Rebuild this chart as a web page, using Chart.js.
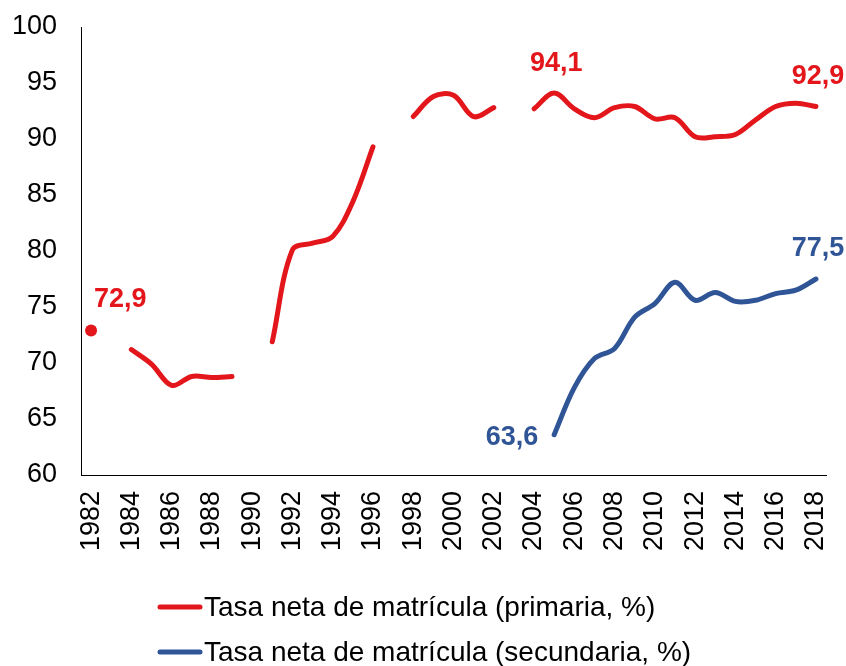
<!DOCTYPE html>
<html>
<head>
<meta charset="utf-8">
<script src="https://cdn.jsdelivr.net/npm/chart.js@4/dist/chart.umd.min.js"></script>
<style>
  html, body { margin: 0; padding: 0; background: #fff; }
  #wrap { width: 846px; height: 666px; position: relative; }
</style>
</head>
<body>
<div id="wrap"><canvas id="c" width="846" height="666"></canvas></div>
<script>
const years = [1982,1983,1984,1985,1986,1987,1988,1989,1990,1991,1992,1993,1994,1995,1996,1997,1998,1999,2000,
  2001,2002,2003,2004,2005,2006,2007,2008,2009,2010,2011,2012,2013,2014,2015,2016,2017,2018];
const primaria = [72.9,null,71.2,69.9,68.0,68.8,68.7,68.8,null,71.9,80.1,80.7,81.3,84.4,89.3,null,92.0,93.8,93.9,
  92.0,92.8,null,92.7,94.1,92.7,91.9,92.8,92.9,91.8,91.9,90.2,90.2,90.4,91.7,92.9,93.2,92.9];
const secundaria = [null,null,null,null,null,null,null,null,null,null,null,null,null,null,null,null,null,null,null,
  null,null,null,null,63.6,67.8,70.4,71.3,74.1,75.3,77.2,75.6,76.3,75.5,75.6,76.2,76.5,77.5];
const seriesNames = ['Tasa neta de matrícula (primaria, %)', 'Tasa neta de matrícula (secundaria, %)'];
const yTicks = [60,65,70,75,80,85,90,95,100];
// labels: [seriesIndex, dataIndex, text]
const valueLabels = [[0,0,'72,9'],[0,23,'94,1'],[0,36,'92,9'],[1,23,'63,6'],[1,36,'77,5']];

const RED = '#E3161B', BLUE = '#2F5597';
const FONT = '"Liberation Sans", Arial, sans-serif';

function isolatedRadius(ctx){
  const d = ctx.dataset.data, i = ctx.dataIndex;
  if (d[i] == null) return 0;
  const prev = i > 0 ? d[i-1] : null, next = i < d.length-1 ? d[i+1] : null;
  return (prev == null && next == null) ? 6 : 0;
}

const labelPlugin = {
  id: 'valueLabels',
  afterDatasetsDraw(chart){
    const c = chart.ctx;
    c.save();
    c.font = 'bold 27px ' + FONT;
    c.textBaseline = 'middle';
    valueLabels.forEach(([s,i,t]) => {
      const p = chart.getDatasetMeta(s).data[i];
      c.fillStyle = s === 0 ? RED : BLUE;
      let x = p.x, y = p.y;
      if (s === 0 && i === 0) { c.textAlign = 'left'; x += 3; y -= 31; }
      else if (s === 1 && i === 23) { c.textAlign = 'right'; x -= 16; y += 3; }
      else { c.textAlign = 'center'; x += 2; y -= 30; }
      c.fillText(t, x, y);
    });
    c.restore();
  }
};

const legendPlugin = {
  id: 'customLegend',
  afterDraw(chart){
    const c = chart.ctx;
    c.save();
    c.font = '28px ' + FONT;
    c.textBaseline = 'middle';
    c.textAlign = 'left';
    const rows = [[seriesNames[0], RED, 607],[seriesNames[1], BLUE, 652]];
    rows.forEach(([t,col,y]) => {
      c.strokeStyle = col; c.lineWidth = 5; c.lineCap = 'round';
      c.beginPath(); c.moveTo(160, y); c.lineTo(200, y); c.stroke();
      c.fillStyle = '#000';
      c.fillText(t, 204, y + 1);
    });
    c.restore();
  }
};

new Chart(document.getElementById('c'), {
  type: 'line',
  data: {
    labels: years.map(String),
    datasets: [
      { label: seriesNames[0], data: primaria, borderColor: RED, backgroundColor: RED,
        borderWidth: 5, tension: 0.35, spanGaps: false, pointRadius: isolatedRadius,
        pointHoverRadius: 0, borderCapStyle: 'round', borderJoinStyle: 'round', pointBorderWidth: 0 },
      { label: seriesNames[1], data: secundaria, borderColor: BLUE, backgroundColor: BLUE,
        borderWidth: 5, tension: 0.35, spanGaps: false, pointRadius: isolatedRadius,
        pointHoverRadius: 0, borderCapStyle: 'round', borderJoinStyle: 'round', pointBorderWidth: 0 }
    ]
  },
  options: {
    responsive: false,
    animation: false,
    layout: { padding: { top: 27, right: 20, left: 0, bottom: 0 } },
    plugins: { legend: { display: false }, tooltip: { enabled: false } },
    scales: {
      x: {
        offset: true,
        grid: { display: false, drawTicks: false },
        border: { display: true, color: '#000', width: 1 },
        ticks: {
          autoSkip: false, minRotation: 90, maxRotation: 90, padding: 16,
          color: '#000', font: { family: FONT, size: 27 },
          callback: function(v, i){ return years[i] % 2 === 0 ? String(years[i]) : ''; }
        },
        afterFit(scale){ scale.height = 191; scale.paddingLeft = 0; scale.paddingRight = 0; }
      },
      y: {
        min: 60, max: 100,
        grid: { display: false, drawTicks: false },
        border: { display: true, color: '#000', width: 1 },
        afterBuildTicks(scale){ scale.ticks = yTicks.map(v => ({ value: v })); },
        ticks: { padding: 24, color: '#000', font: { family: FONT, size: 27 } },
        afterFit(scale){ scale.width = 81; scale.paddingTop = 0; scale.paddingBottom = 0; }
      }
    }
  },
  plugins: [labelPlugin, legendPlugin]
});
</script>
</body>
</html>
